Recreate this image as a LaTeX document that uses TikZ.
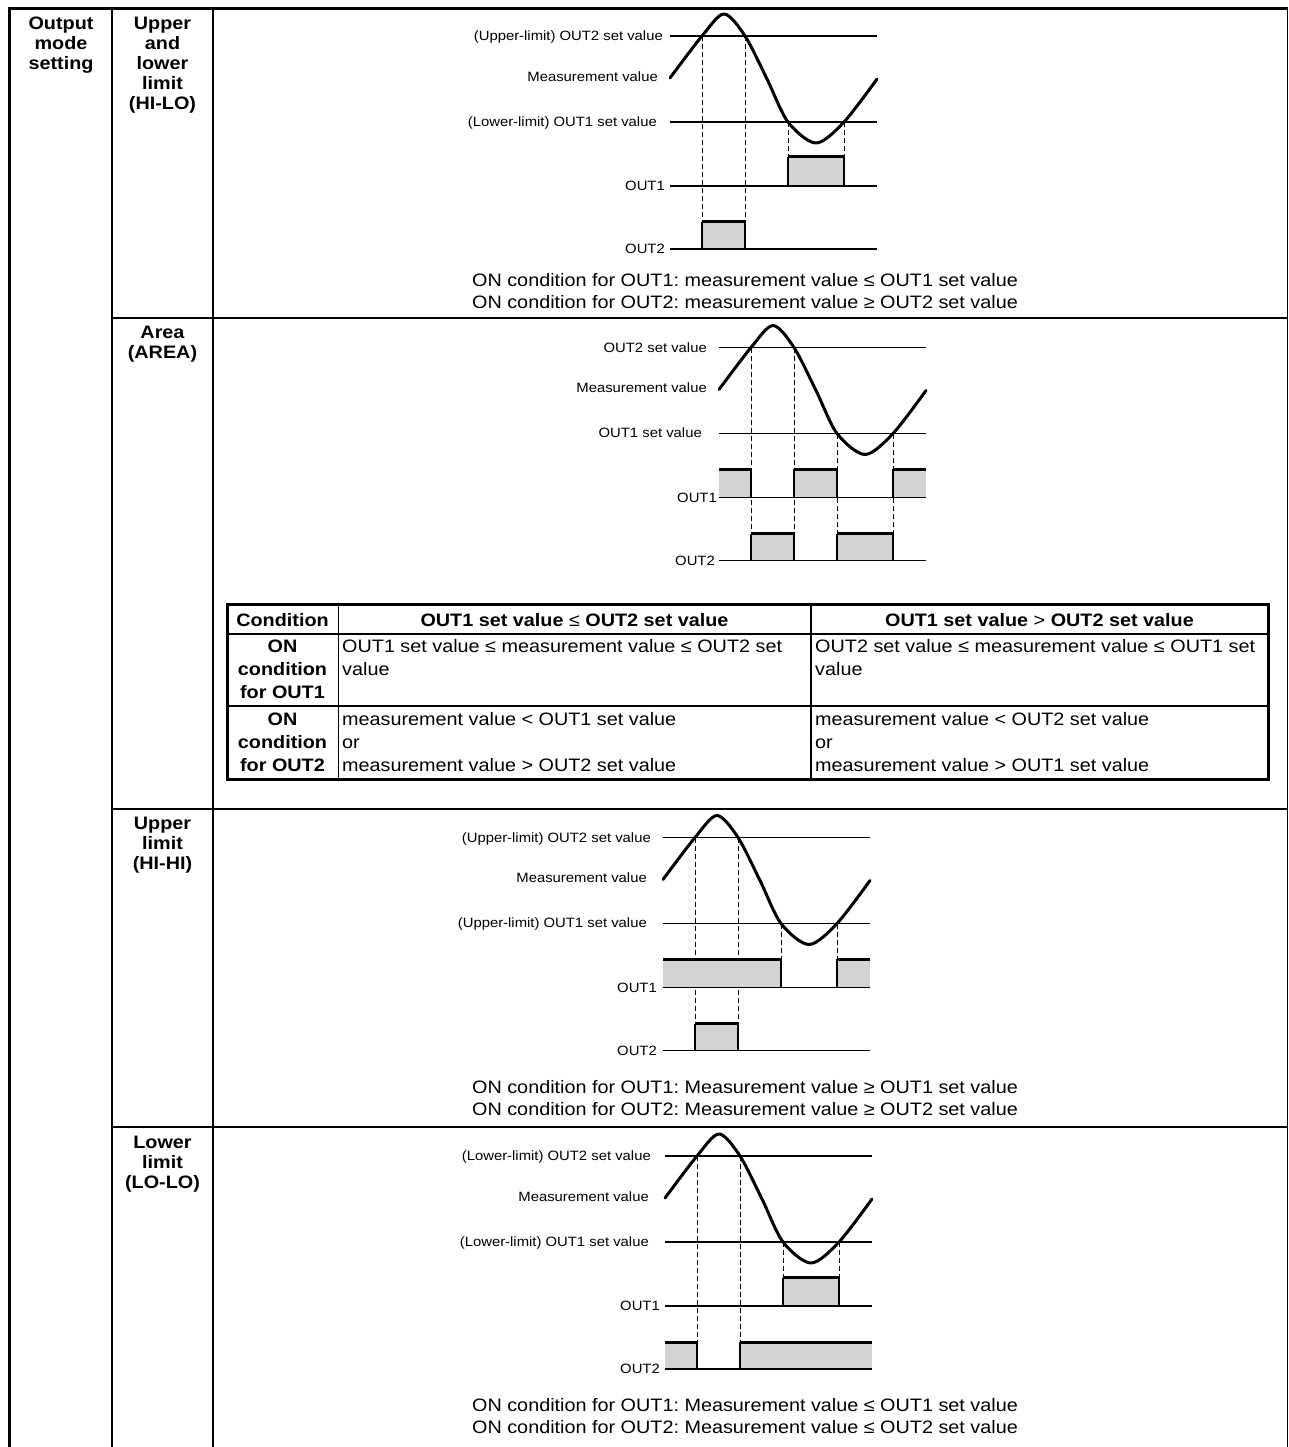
\documentclass[tikz,border=0pt]{standalone}
\usepackage{fontspec}
\setmainfont{Liberation Sans}[FakeStretch=1.1]
\definecolor{boxgray}{RGB}{211,211,211}
\frenchspacing
\begin{document}
\begin{tikzpicture}[x=1pt,y=-1pt,
  frame/.style={line width=3pt},
  rframe/.style={line width=1.5pt},
  grid/.style={line width=2pt},
  tframe/.style={line width=3pt},
  tgrid/.style={line width=1.8pt},
  setline/.style={line width=1.2pt},
  dashline/.style={line width=0.9pt, dash pattern=on 5pt off 3pt},
  wave/.style={line width=3pt, line join=round, line cap=round},
  ontop/.style={line width=3pt},
  boxside/.style={line width=1.2pt},
  lbl/.style={font=\fontsize{13.5}{16}\selectfont, inner sep=0pt, anchor=base east},
  cond/.style={font=\fontsize{18}{22.5}\selectfont, inner sep=0pt, align=center, anchor=north},
  head/.style={font=\bfseries\fontsize{18}{20}\selectfont, inner sep=0pt, align=center, anchor=north},
  thead/.style={font=\bfseries\fontsize{18}{23}\selectfont, inner sep=0pt, align=center, anchor=north},
  cell/.style={font=\fontsize{18}{23}\selectfont, inner sep=0pt, align=left, anchor=north west},
]
\useasboundingbox (0,0) rectangle (1289,1447);

% ---------- outer frame and grid ----------
\draw[frame] (9.5,1447) -- (9.5,8.5) -- (1288,8.5);
\draw[rframe] (1287.5,8.5) -- (1287.5,1447);
\draw[grid] (112,8.5) -- (112,1447);
\draw[grid] (213,8.5) -- (213,1447);
\draw[grid] (112,318) -- (1287.5,318);
\draw[grid] (112,809) -- (1287.5,809);
\draw[grid] (112,1127) -- (1287.5,1127);

% ---------- left column labels ----------
\node[head] (hOut) at (61,16.5) {Output\\mode\\setting};
\node[head] (hHiLo) at (162.5,16.5) {Upper\\and\\lower\\limit\\(HI-LO)};
\node[head] (hArea) at (162.5,326) {Area\\(AREA)};
\node[head] (hHiHi) at (162.5,816.5) {Upper\\limit\\(HI-HI)};
\node[head] (hLoLo) at (162.5,1135.5) {Lower\\limit\\(LO-LO)};

% ---------- chart 1 : HI-LO ----------
\begin{scope}[shift={(670,36)}]
  \draw[dashline] (32,0) -- (32,186);
  \draw[dashline] (75,0) -- (75,186);
  \draw[dashline] (118,86) -- (118,121);
  \draw[dashline] (174,86) -- (174,121);
  \fill[boxgray] (118,121) rectangle (174,150);
  \draw[boxside] (118,121) -- (118,150) (174,121) -- (174,150);
  \draw[ontop] (118,121) -- (174,121);
  \fill[boxgray] (32,186) rectangle (75,213);
  \draw[boxside] (32,186) -- (32,213) (75,186) -- (75,213);
  \draw[ontop] (32,186) -- (75,186);
  \draw[setline] (0,0) -- (207,0);
  \draw[setline] (0,86) -- (207,86);
  \draw[setline] (0,150) -- (207,150);
  \draw[setline] (0,213) -- (207,213);
  \draw[wave] plot[smooth] coordinates {(0,42) (32,0) (54,-22) (75,0) (97,43) (118,86) (146,107) (174,86) (207,43)};
  \node[lbl] (a2) at (-7,4.8) {(Upper-limit) OUT2 set value};
  \node[lbl] (am) at (-12,45.3) {Measurement value};
  \node[lbl] (a1) at (-13,90.3) {(Lower-limit) OUT1 set value};
  \node[lbl] (ao1) at (-5,154.8) {OUT1};
  \node[lbl] (ao2) at (-5,217.8) {OUT2};
\end{scope}
\node[cond] (acond) at (745,273) {ON condition for OUT1: measurement value ≤ OUT1 set value\\ON condition for OUT2: measurement value ≥ OUT2 set value};

% ---------- chart 2 : AREA ----------
\begin{scope}[shift={(719,347.5)}]
  \draw[dashline] (32,0) -- (32,186);
  \draw[dashline] (75,0) -- (75,186);
  \draw[dashline] (118,86) -- (118,186);
  \draw[dashline] (174,86) -- (174,186);
  \fill[boxgray] (0,121.5) rectangle (32,150);
  \fill[boxgray] (75,121.5) rectangle (118,150);
  \fill[boxgray] (174,121.5) rectangle (207,150);
  \draw[boxside] (32,121.5) -- (32,150) (75,121.5) -- (75,150) (118,121.5) -- (118,150) (174,121.5) -- (174,150);
  \draw[ontop] (0,121.5) -- (32,121.5) (75,121.5) -- (118,121.5) (174,121.5) -- (207,121.5);
  \fill[boxgray] (32,186) rectangle (75,213);
  \fill[boxgray] (118,186) rectangle (174,213);
  \draw[boxside] (32,186) -- (32,213) (75,186) -- (75,213) (118,186) -- (118,213) (174,186) -- (174,213);
  \draw[ontop] (32,186) -- (75,186) (118,186) -- (174,186);
  \draw[setline] (0,0) -- (207,0);
  \draw[setline] (0,86) -- (207,86);
  \draw[setline] (0,150) -- (207,150);
  \draw[setline] (0,213) -- (207,213);
  \draw[wave] plot[smooth] coordinates {(0,42) (32,0) (54,-22) (75,0) (97,43) (118,86) (146,107) (174,86) (207,43)};
  \node[lbl] (b2) at (-12,4.8) {OUT2 set value};
  \node[lbl] (bm) at (-12,45.3) {Measurement value};
  \node[lbl] (b1) at (-17,90.3) {OUT1 set value};
  \node[lbl] (bo1) at (-2,154.8) {OUT1};
  \node[lbl] (bo2) at (-4,217.8) {OUT2};
\end{scope}

% ---------- table ----------
\draw[tgrid] (338.5,604) -- (338.5,779);
\draw[tgrid] (811,604) -- (811,779);
\draw[tgrid] (227,634) -- (1268,634);
\draw[tgrid] (227,706) -- (1268,706);
\draw[tframe] (227,604) rectangle (1268,779);
\node[thead] (tc) at (282.5,613.5) {Condition};
\node[thead] (th1) at (574.5,613.5) {OUT1 set value \mdseries≤ \bfseries OUT2 set value};
\node[thead] (th2) at (1039.5,613.5) {OUT1 set value \mdseries> \bfseries OUT2 set value};
\node[thead] (tr1) at (282.5,639.5) {ON\\condition\\for OUT1};
\node[cell] (t11) at (342,639.5) {OUT1 set value ≤ measurement value ≤ OUT2 set\\value};
\node[cell] (t12) at (815,639.5) {OUT2 set value ≤ measurement value ≤ OUT1 set\\value};
\node[thead] (tr2) at (282.5,712.5) {ON\\condition\\for OUT2};
\node[cell] (t21) at (342,712.5) {measurement value < OUT1 set value\\or\\measurement value > OUT2 set value};
\node[cell] (t22) at (815,712.5) {measurement value < OUT2 set value\\or\\measurement value > OUT1 set value};

% ---------- chart 3 : HI-HI ----------
\begin{scope}[shift={(663,837.5)}]
  \draw[dashline] (32,0) -- (32,186);
  \draw[dashline] (75,0) -- (75,186);
  \draw[dashline] (118,86) -- (118,122);
  \draw[dashline] (174,86) -- (174,122);
  \fill[boxgray] (0,121.5) rectangle (118,150);
  \fill[boxgray] (174,121.5) rectangle (207,150);
  \draw[boxside] (118,121.5) -- (118,150) (174,121.5) -- (174,150);
  \draw[ontop] (0,121.5) -- (118,121.5) (174,121.5) -- (207,121.5);
  \fill[boxgray] (32,186) rectangle (75,213);
  \draw[boxside] (32,186) -- (32,213) (75,186) -- (75,213);
  \draw[ontop] (32,186) -- (75,186);
  \draw[setline] (0,0) -- (207,0);
  \draw[setline] (0,86) -- (207,86);
  \draw[setline] (0,150) -- (207,150);
  \draw[setline] (0,213) -- (207,213);
  \draw[wave] plot[smooth] coordinates {(0,42) (32,0) (54,-22) (75,0) (97,43) (118,86) (146,107) (174,86) (207,43)};
  \node[lbl] (c2) at (-12,4.8) {(Upper-limit) OUT2 set value};
  \node[lbl] (cm) at (-16,45.3) {Measurement value};
  \node[lbl] (c1) at (-16,90.3) {(Upper-limit) OUT1 set value};
  \node[lbl] (co1) at (-6,154.8) {OUT1};
  \node[lbl] (co2) at (-6,217.8) {OUT2};
\end{scope}
\node[cond] (ccond) at (745,1080) {ON condition for OUT1: Measurement value ≥ OUT1 set value\\ON condition for OUT2: Measurement value ≥ OUT2 set value};

% ---------- chart 4 : LO-LO ----------
\begin{scope}[shift={(665,1156)}]
  \draw[dashline] (32,0) -- (32,186);
  \draw[dashline] (75,0) -- (75,186);
  \draw[dashline] (118,86) -- (118,122);
  \draw[dashline] (174,86) -- (174,122);
  \fill[boxgray] (118,121.5) rectangle (174,150);
  \draw[boxside] (118,121.5) -- (118,150) (174,121.5) -- (174,150);
  \draw[ontop] (118,121.5) -- (174,121.5);
  \fill[boxgray] (0,186) rectangle (32,213);
  \fill[boxgray] (75,186) rectangle (207,213);
  \draw[boxside] (32,186) -- (32,213) (75,186) -- (75,213);
  \draw[ontop] (0,186) -- (32,186) (75,186) -- (207,186);
  \draw[setline] (0,0) -- (207,0);
  \draw[setline] (0,86) -- (207,86);
  \draw[setline] (0,150) -- (207,150);
  \draw[setline] (0,213) -- (207,213);
  \draw[wave] plot[smooth] coordinates {(0,42) (32,0) (54,-22) (75,0) (97,43) (118,86) (146,107) (174,86) (207,43)};
  \node[lbl] (d2) at (-14,4.8) {(Lower-limit) OUT2 set value};
  \node[lbl] (dm) at (-16,45.3) {Measurement value};
  \node[lbl] (d1) at (-16,90.3) {(Lower-limit) OUT1 set value};
  \node[lbl] (do1) at (-5,154.8) {OUT1};
  \node[lbl] (do2) at (-5,217.8) {OUT2};
\end{scope}
\node[cond] (dcond) at (745,1398) {ON condition for OUT1: Measurement value ≤ OUT1 set value\\ON condition for OUT2: Measurement value ≤ OUT2 set value};
\end{tikzpicture}
\end{document}
